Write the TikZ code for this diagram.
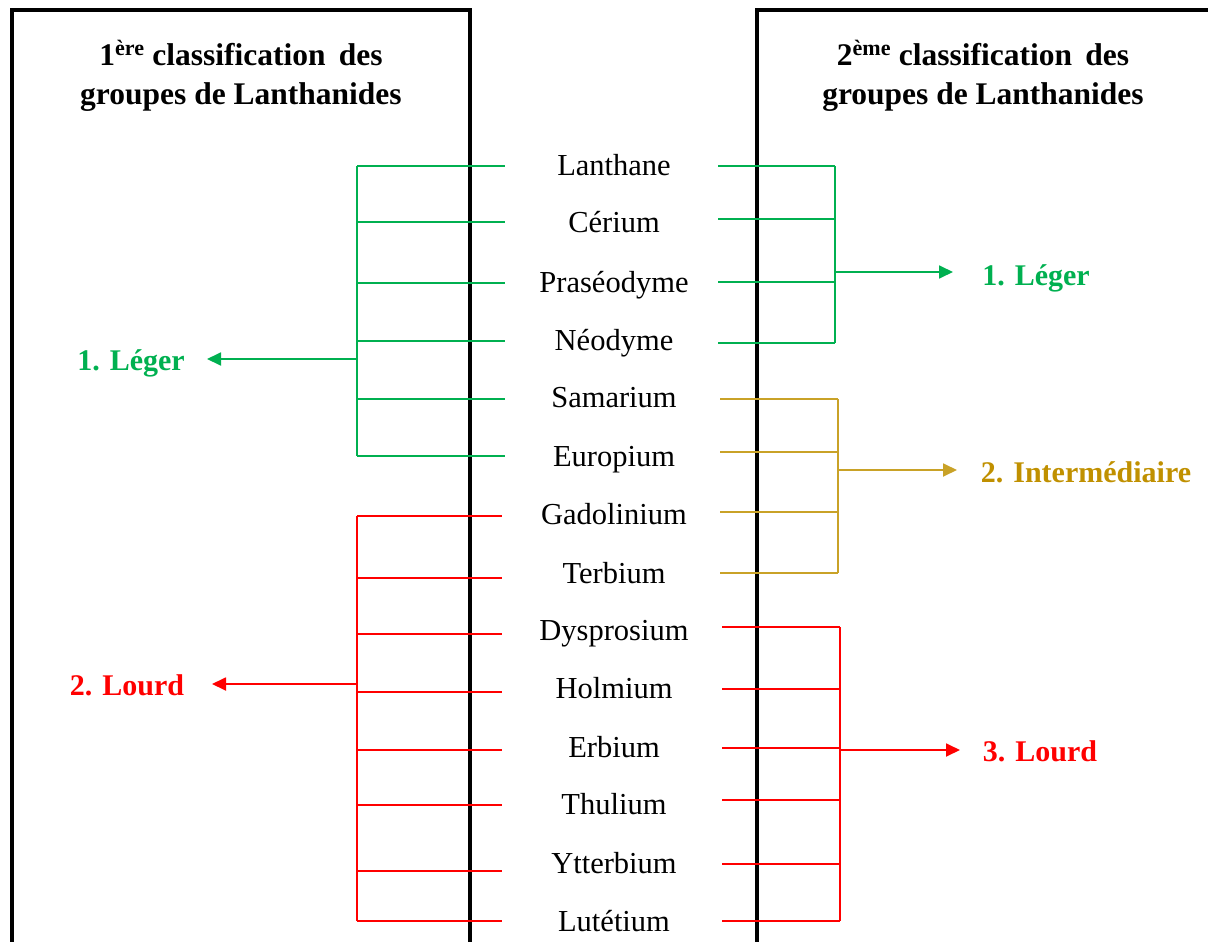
\documentclass[tikz,border=0pt]{standalone}
\usepackage{fontspec}
\setmainfont{Liberation Serif}
\usetikzlibrary{arrows.meta}
\definecolor{lgreen}{HTML}{00B050}
\definecolor{lred}{HTML}{FF0000}
\definecolor{lgold}{HTML}{C9A227}
\definecolor{tgold}{HTML}{C09000}
\begin{document}
\begin{tikzpicture}[x=1pt,y=-1pt,
  boxline/.style={line width=4pt},
  elem/.style={font=\fontsize{30.5}{34}\selectfont, anchor=base, inner sep=0pt},
  title/.style={font=\bfseries\fontsize{31.5}{39}\selectfont, align=center, anchor=base, inner sep=0pt},
  grp/.style={font=\bfseries\fontsize{30}{34}\selectfont, anchor=base, inner sep=0pt},
  brk/.style={line width=1.3pt},
  arr/.style={line width=1.8pt, -{Triangle[length=14pt,width=13pt]}}]
\useasboundingbox (0,0) rectangle (1208,942);
% boxes
\draw[boxline] (12,945) -- (12,10) -- (470,10) -- (470,945);
\draw[boxline] (757,945) -- (757,10) -- (1212,10);
\node[title] (t1) at (241,104) {1\textsuperscript{ère} classification\, des\\groupes de Lanthanides};
\node[title] (t2) at (983,104) {2\textsuperscript{ème} classification\, des\\groupes de Lanthanides};
% elements
\foreach \n/\y/\t in {e1/165/Lanthane,e2/222/Cérium,e3/282/Praséodyme,e4/340/Néodyme,
  e5/397/Samarium,e6/456/Europium,e7/514/Gadolinium,e8/573/Terbium,e9/630/Dysprosium,
  e10/688/Holmium,e11/747/Erbium,e12/804/Thulium,e13/863/Ytterbium,e14/921/Lutétium}
  \node[elem] (\n) at (614,\y+10) {\t};
% group labels
\node[grp, text=lgreen] (g1) at (131,370) {1. Léger};
\node[grp, text=lred] (g2) at (127,695) {2. Lourd};
\node[grp, text=lgreen] (h1) at (1036,285) {1. Léger};
\node[grp, text=tgold] (h2) at (1086,482) {2. Intermédiaire};
\node[grp, text=lred] (h3) at (1040,761) {3. Lourd};
% left green bracket
\foreach \y in {166,222,283,341,399,456} \draw[brk, lgreen] (357,\y) -- (505,\y);
\draw[brk, lgreen] (357,166) -- (357,456);
\draw[arr, lgreen] (357,359) -- (207,359);
% left red bracket
\foreach \y in {516,578,634,692,750,805,871,921} \draw[brk, lred] (357,\y) -- (502,\y);
\draw[brk, lred] (357,516) -- (357,921);
\draw[arr, lred] (357,684) -- (212,684);
% right green bracket
\foreach \y in {166,219,282,343} \draw[brk, lgreen] (718,\y) -- (835,\y);
\draw[brk, lgreen] (835,166) -- (835,343);
\draw[arr, lgreen] (835,272) -- (953,272);
% right gold bracket
\foreach \y in {399,452,512,573} \draw[brk, lgold] (720,\y) -- (838,\y);
\draw[brk, lgold] (838,399) -- (838,573);
\draw[arr, lgold] (838,470) -- (957,470);
% right red bracket
\foreach \y in {627,689,748,800,864,921} \draw[brk, lred] (722,\y) -- (840,\y);
\draw[brk, lred] (840,627) -- (840,921);
\draw[arr, lred] (840,750) -- (960,750);
\end{tikzpicture}
\end{document}
